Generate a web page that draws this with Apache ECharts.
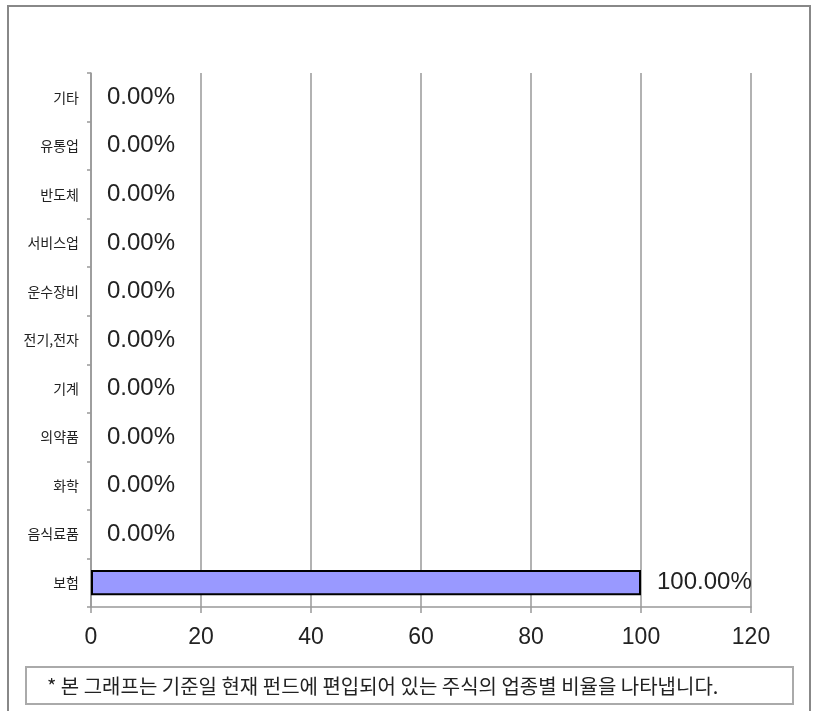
<!DOCTYPE html>
<html><head><meta charset="utf-8">
<script src="https://cdn.jsdelivr.net/npm/echarts@6/dist/echarts.min.js"></script>
<style>html,body{margin:0;padding:0;background:#fff}#c{width:814px;height:711px}</style>
</head><body><div id="c"></div>
<script>
// categories listed bottom to top
const categories = ['보험','음식료품','화학','의약품','기계','전기,전자','운수장비','서비스업','반도체','유통업','기타'];
const values = [100, 0, 0, 0, 0, 0, 0, 0, 0, 0, 0];
const xTicks = [0, 20, 40, 60, 80, 100, 120];
const footnote = '* 본 그래프는 기준일 현재 펀드에 편입되어 있는 주식의 업종별 비율을 나타냅니다.';

const chart = echarts.init(document.getElementById('c'));
const numFont = 'Liberation Sans, Arial, sans-serif';
const krFont = 'Noto Sans CJK KR, sans-serif';
const barData = values.map(v => ({
  value: v,
  itemStyle: {borderWidth: v > 0 ? 2 : 0}
}));
chart.setOption({
  animation: false,
  grid: {left: 91, right: 63, top: 73, bottom: 104},
  xAxis: {
    type: 'value', min: xTicks[0], max: xTicks[xTicks.length-1], interval: 20,
    axisLine: {show: true, lineStyle: {color: '#999', width: 1.5}},
    axisTick: {show: true, length: 6, lineStyle: {color: '#999', width: 1.5}},
    splitLine: {show: true, lineStyle: {color: '#999', width: 1.5}},
    axisLabel: {fontFamily: numFont, fontSize: 23, color: '#222', margin: 19}
  },
  yAxis: {
    type: 'category', data: categories,
    axisLine: {show: true, lineStyle: {color: '#999', width: 1.5}},
    axisTick: {show: true, length: 4, lineStyle: {color: '#999', width: 1.5}},
    axisLabel: {fontFamily: krFont, fontSize: 14, color: '#222', margin: 12}
  },
  series: [{
    type: 'bar', data: barData, barWidth: '52%',
    itemStyle: {color: '#9999FF', borderColor: '#000', borderWidth: 2},
    label: {show: true, position: 'right', distance: 16,
      formatter: p => p.value.toFixed(2) + '%',
      fontFamily: numFont, fontSize: 24, color: '#222'}
  }],
  graphic: [
    {type: 'rect', shape: {x: 8, y: 6, width: 802, height: 712},
     style: {fill: 'none', stroke: '#888', lineWidth: 2}, silent: true},
    {type: 'rect', shape: {x: 26, y: 667, width: 767, height: 37},
     style: {fill: 'none', stroke: '#aaa', lineWidth: 2}, silent: true},
    {type: 'text', x: 47, y: 686,
     style: {text: footnote, fontFamily: krFont, fontSize: 20, fill: '#222', textVerticalAlign: 'middle'}}
  ]
});
</script></body></html>
